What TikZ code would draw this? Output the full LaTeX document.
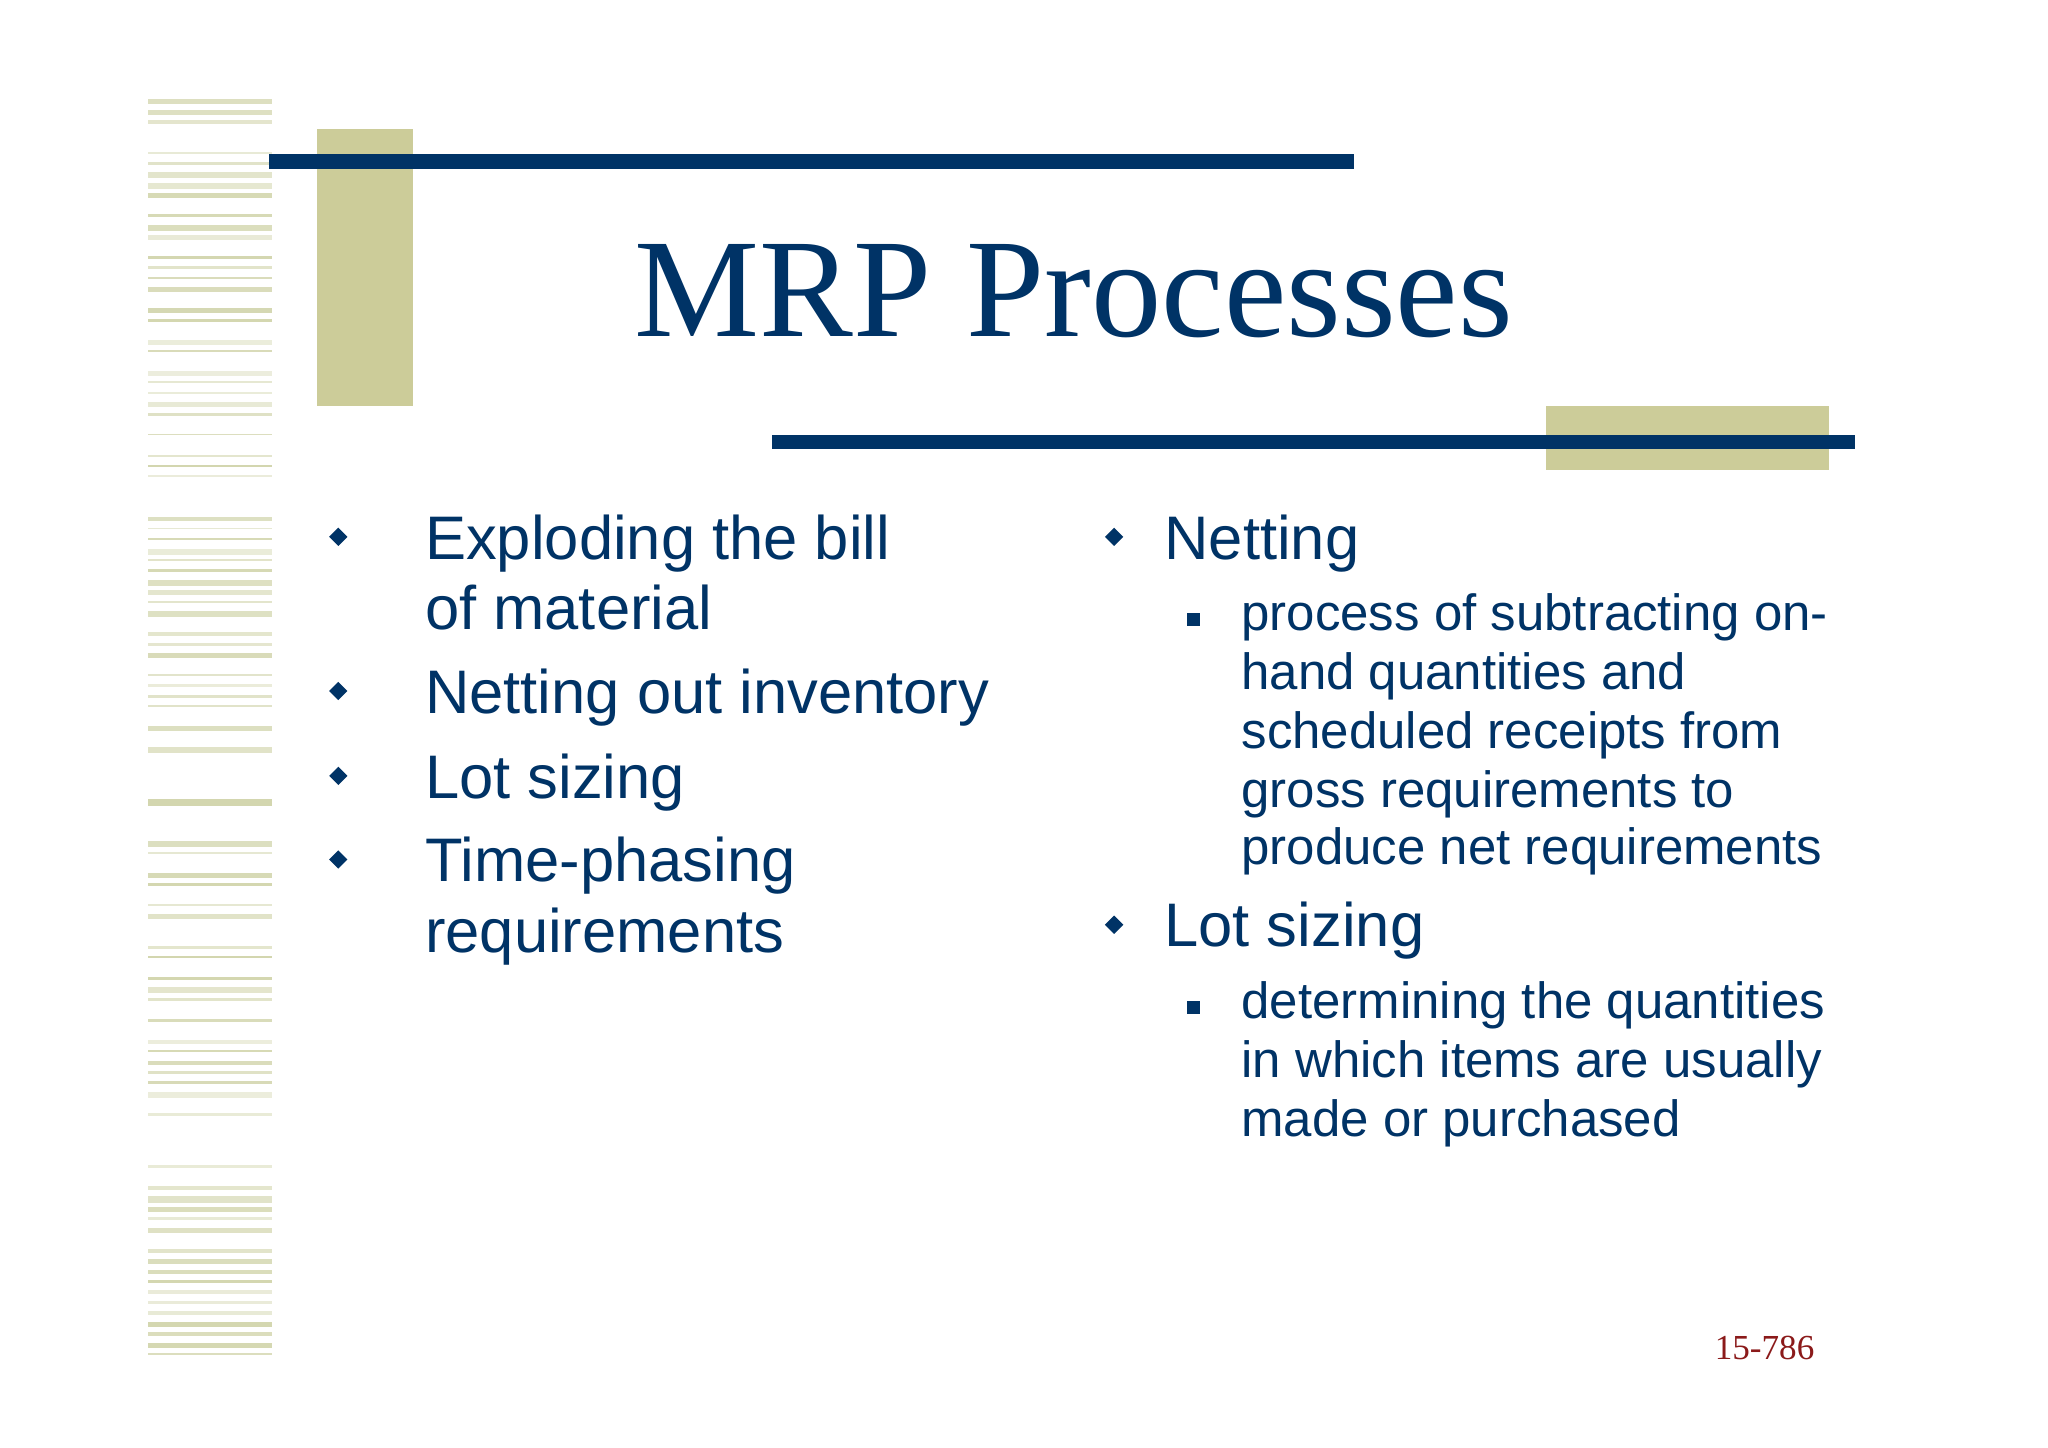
\documentclass[tikz,border=0pt]{standalone}
\usepackage{fontspec}
\setmainfont{Liberation Sans}
\newfontfamily\tnr{Liberation Serif}
\definecolor{navy}{HTML}{003366}
\definecolor{olive}{HTML}{CCCC99}
\definecolor{stripe}{HTML}{D3D6AE}
\definecolor{dred}{HTML}{8B1A1A}
\begin{document}
\begin{tikzpicture}[x=0.01306cm,y=-0.01306cm,
  big/.style={anchor=base west,text=navy,font=\fontsize{17.5}{20}\selectfont,inner sep=0pt},
  small/.style={anchor=base west,text=navy,font=\fontsize{14.5}{17}\selectfont,inner sep=0pt},
  dia/.style={fill=navy,diamond,minimum size=0pt},
]
\useasboundingbox (0,0) rectangle (1568,1108);
\fill[white] (0,0) rectangle (1568,1108);
\pgfmathsetseed{7}
\foreach \i in {0,...,122}{
  \pgfmathsetmacro\yy{60+\i*8}
  \pgfmathsetmacro\th{1+rnd*4}
  \pgfmathsetmacro\op{rnd>0.3 ? 0.4+rnd*0.6 : 0}
  \fill[stripe,opacity=\op] (113,\yy) rectangle (208,\yy+\th);
}
\fill[olive] (243,99) rectangle (316,311);
\fill[navy] (206,118) rectangle (1037,129);
\fill[olive] (1184,311) rectangle (1400,360);
\fill[navy] (591,333) rectangle (1420,344);
\node[anchor=base,text=navy,font=\tnr\fontsize{40}{44}\selectfont,inner sep=0pt] (title) at (822,258) {MRP Processes};
% left bullets
\foreach \y/\n in {411/d1,529/d2,594/d3,658/d4}{
  \fill[navy] (259,\y-7) -- (266,\y) -- (259,\y+7) -- (252,\y) -- cycle;}
\node[big] (l1) at (325,428) {Exploding the bill};
\node[big] (l1b) at (325,482) {of material};
\node[big] (l2) at (325,546) {Netting out inventory};
\node[big] (l3) at (325,611) {Lot sizing};
\node[big] (l4) at (325,675) {Time-phasing};
\node[big] (l4b) at (325,729) {requirements};
% right bullets
\foreach \y in {411,708}{
  \fill[navy] (853,\y-7) -- (860,\y) -- (853,\y+7) -- (846,\y) -- cycle;}
\node[big] (r1) at (891,428) {Netting};
\node[big] (r2) at (891,725) {Lot sizing};
\foreach \y in {474,771}{\fill[navy] (909,\y-5) rectangle (919,\y+5);}
\node[small] (s1) at (950,483) {process of subtracting on-};
\node[small] (s2) at (950,528) {hand quantities and};
\node[small] (s3) at (950,573) {scheduled receipts from};
\node[small] (s4) at (950,618) {gross requirements to};
\node[small] (s5) at (950,662) {produce net requirements};
\node[small] (t1) at (950,780) {determining the quantities};
\node[small] (t2) at (950,825) {in which items are usually};
\node[small] (t3) at (950,870) {made or purchased};
\node[anchor=base,text=dred,font=\tnr\fontsize{10}{12}\selectfont,inner sep=0pt] (pg) at (1351,1041) {15-786};
\end{tikzpicture}
\end{document}
